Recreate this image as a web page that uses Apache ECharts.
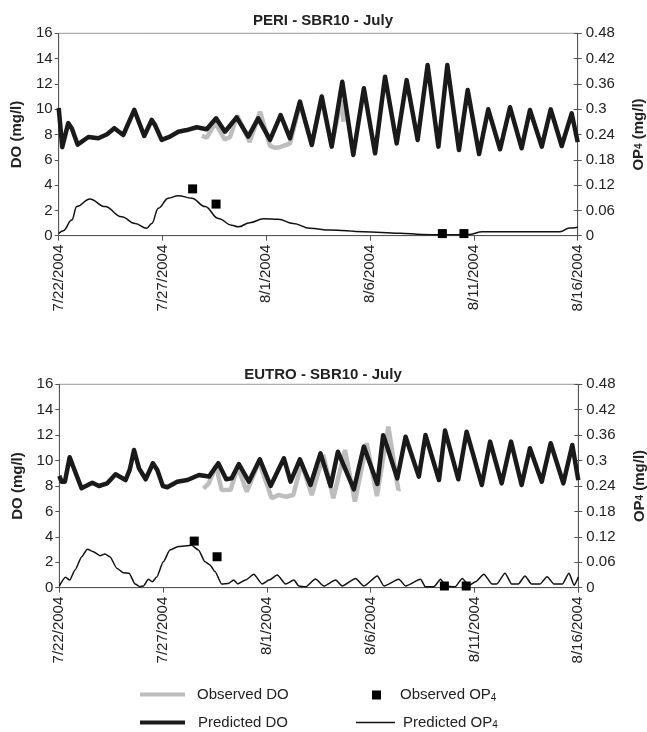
<!DOCTYPE html>
<html>
<head>
<meta charset="utf-8">
<script src="https://cdn.jsdelivr.net/npm/echarts@6/dist/echarts.min.js"></script>
<style>
  html, body { margin: 0; padding: 0; background: #fff; }
  #chart { width: 647px; height: 732px; }
</style>
</head>
<body>
<div id="chart"></div>
<script>
// days since 7/22/2004
const dateLabels = ['7/22/2004', '7/27/2004', '8/1/2004', '8/6/2004', '8/11/2004', '8/16/2004'];
const panelTitles = ['PERI - SBR10 - July', 'EUTRO - SBR10 - July'];

// PERI panel
const periDoObserved = [
    [6.9, 7.9], [7.13, 7.75], [7.55, 8.9], [8.0, 7.6], [8.25, 7.8], [8.6, 9.5], [9.2, 7.4],
    [9.7, 9.8], [10.18, 7.1], [10.4, 6.95], [10.66, 7.0], [11.14, 7.3], [11.62, 10.4],
    [12.2, 7.3], [12.65, 10.8], [13.15, 7.2], [13.62, 10.7], [13.72, 9.0]
];
const periDoPredicted = [
    [0, 10.1], [0.17, 7.0], [0.46, 8.9], [0.63, 8.5], [0.91, 7.2], [1.43, 7.8], [1.91, 7.7],
    [2.31, 8.0], [2.68, 8.5], [3.11, 7.96], [3.64, 9.95], [4.12, 7.88], [4.48, 9.15], [4.64, 8.75],
    [4.96, 7.57], [5.36, 7.83], [5.76, 8.22], [6.17, 8.35], [6.65, 8.57], [7.13, 8.41], [7.58, 9.28],
    [8.01, 8.22], [8.57, 9.36], [9.13, 7.83], [9.61, 9.28], [10.18, 7.57], [10.69, 9.54], [11.14, 7.7],
    [11.62, 10.6], [12.19, 7.17], [12.67, 11.0], [13.15, 7.04], [13.66, 12.17], [14.19, 6.38],
    [14.7, 11.65], [15.24, 6.51], [15.72, 12.57], [16.28, 7.3], [16.76, 12.3], [17.29, 7.57],
    [17.77, 13.49], [18.29, 7.04], [18.72, 13.49], [19.28, 6.77], [19.7, 11.52], [20.25, 6.46],
    [20.69, 9.99], [21.26, 6.83], [21.74, 10.15], [22.3, 6.91], [22.7, 9.94], [23.27, 7.04],
    [23.7, 9.99], [24.23, 7.09], [24.71, 9.67], [25, 7.4]
];
const periOpObserved = [[6.45, 0.111], [7.58, 0.075], [18.48, 0.005], [19.52, 0.005]];
const periOpPredicted = [
    [0, 0.005], [0.22, 0.012], [0.63, 0.037], [0.87, 0.069], [1.5, 0.087], [2.23, 0.069],
    [3.03, 0.045], [3.68, 0.029], [4.24, 0.0175], [4.48, 0.029], [4.8, 0.065], [5.28, 0.089],
    [5.76, 0.095], [6.41, 0.089], [7.05, 0.069], [7.69, 0.041], [8.33, 0.025], [8.65, 0.021],
    [9.21, 0.031], [9.86, 0.04], [10.58, 0.039], [11.3, 0.029], [12.1, 0.0175], [13.07, 0.0135],
    [14.67, 0.0095], [16.44, 0.0057], [17.5, 0.003], [18.5, 0.002], [19.8, 0.003], [20.4, 0.0095],
    [24.15, 0.0095], [24.6, 0.018], [25, 0.02]
];

// EUTRO panel
const eutroDoObserved = [
    [6.95, 7.8], [7.2, 8.2], [7.55, 9.6], [7.82, 7.69], [8.25, 7.7], [8.6, 9.5], [9.03, 7.55],
    [9.62, 9.9], [10.23, 7.03], [10.55, 7.29], [10.9, 7.16], [11.27, 7.29], [11.67, 9.79],
    [12.16, 7.29], [12.72, 10.44], [13.2, 7.03], [13.76, 10.83], [14.24, 6.77], [14.81, 11.36],
    [15.3, 7.2], [15.85, 12.67], [16.33, 7.69], [16.4, 7.8]
];
const eutroDoPredicted = [
    [0, 8.8], [0.11, 8.34], [0.27, 8.34], [0.5, 10.26], [0.7, 9.39], [1.07, 7.82], [1.59, 8.26],
    [1.91, 8.0], [2.31, 8.21], [2.71, 8.92], [3.19, 8.47], [3.39, 9.26], [3.6, 10.83], [3.84, 9.39],
    [4.16, 8.53], [4.51, 9.79], [4.72, 9.26], [4.99, 8.0], [5.2, 7.9], [5.68, 8.34], [6.17, 8.47],
    [6.73, 8.87], [7.21, 8.74], [7.66, 9.79], [8.04, 8.53], [8.3, 8.6], [8.65, 9.73], [9.13, 8.34],
    [9.66, 10.1], [10.18, 8.0], [10.82, 10.18], [11.14, 8.34], [11.59, 10.1], [12.1, 8.08],
    [12.58, 10.57], [13.07, 8.0], [13.42, 10.7], [14.19, 7.74], [14.67, 11.1], [15.32, 8.16],
    [15.6, 12.0], [15.75, 11.3], [16.28, 8.6], [16.68, 11.88], [17.32, 8.74], [17.64, 12.01],
    [18.29, 8.47], [18.58, 12.36], [19.22, 8.53], [19.62, 12.27], [20.35, 8.08], [20.75, 11.49],
    [21.31, 8.21], [21.76, 11.49], [22.27, 8.08], [22.67, 10.97], [23.24, 8.34], [23.67, 11.36],
    [24.28, 8.21], [24.71, 11.23], [25, 8.47]
];
const eutroOpObserved = [[6.5, 0.11], [7.6, 0.073], [18.55, 0.004], [19.6, 0.004]];
const eutroOpPredicted = [
    [0, 0.004], [0.3, 0.0245], [0.5, 0.018], [0.76, 0.042], [1.08, 0.073], [1.35, 0.091],
    [1.64, 0.085], [1.96, 0.0755], [2.2, 0.0795], [2.44, 0.073], [2.77, 0.046], [3.09, 0.035],
    [3.36, 0.034], [3.65, 0.0087], [3.89, 0.0024], [4.05, 0.004], [4.29, 0.02], [4.48, 0.014],
    [4.69, 0.025], [5.01, 0.061], [5.33, 0.089], [5.73, 0.097], [6.14, 0.099], [6.37, 0.1],
    [6.7, 0.089], [7.02, 0.061], [7.26, 0.0535], [7.5, 0.038], [7.82, 0.0087], [8.14, 0.01],
    [8.4, 0.018], [8.6, 0.009], [8.97, 0.018], [9.37, 0.0315], [9.77, 0.0087], [10.1, 0.018],
    [10.5, 0.03], [10.9, 0.0087], [11.3, 0.018], [11.54, 0.004], [11.86, 0.002], [12.34, 0.0205],
    [12.74, 0.004], [13.31, 0.018], [13.63, 0.004], [14.27, 0.022], [14.67, 0.004], [15.32, 0.0276],
    [15.64, 0.004], [16.36, 0.02], [16.68, 0.004], [17.4, 0.02], [17.64, 0.002], [18.04, 0.002],
    [18.37, 0.02], [18.6, 0.004], [19.06, 0.002], [19.41, 0.022], [19.73, 0.005], [20.05, 0.014],
    [20.45, 0.032], [20.85, 0.0087], [21.07, 0.0087], [21.47, 0.034], [21.79, 0.0087],
    [22.11, 0.0087], [22.43, 0.0276], [22.75, 0.0087], [23.15, 0.0087], [23.5, 0.026],
    [23.83, 0.0087], [24.23, 0.0087], [24.55, 0.034], [24.8, 0.006], [25, 0.025]
];

const FONT = '"Liberation Sans", Arial, sans-serif';
const axisColor = '#555';

function xAxisFor(gridIndex) {
    return {
        type: 'value', gridIndex: gridIndex, min: 0, max: 25, interval: 5,
        axisLine: { lineStyle: { color: axisColor } },
        axisTick: { length: 5, lineStyle: { color: axisColor } },
        axisLabel: {
            rotate: 90, margin: 9, color: '#222', fontSize: 15, fontFamily: FONT,
            formatter: v => dateLabels[Math.round(v / 5)]
        },
        splitLine: { show: false }
    };
}

function doAxisFor(gridIndex) {
    return {
        type: 'value', gridIndex: gridIndex, position: 'left', min: 0, max: 16, interval: 2,
        name: 'DO (mg/l)', nameLocation: 'middle', nameRotate: 90, nameGap: 34,
        nameTextStyle: { fontWeight: 'bold', fontSize: 15, color: '#222', fontFamily: FONT },
        axisLine: { show: true, lineStyle: { color: axisColor } },
        axisTick: { show: true, length: 4, lineStyle: { color: axisColor } },
        axisLabel: { color: '#222', fontSize: 15, fontFamily: FONT, margin: 6 },
        splitLine: { show: false }
    };
}

function opAxisFor(gridIndex) {
    return {
        type: 'value', gridIndex: gridIndex, position: 'right', min: 0, max: 0.48, interval: 0.06,
        name: 'OP{s|4} (mg/l)', nameLocation: 'middle', nameRotate: 90, nameGap: 54,
        nameTextStyle: {
            fontWeight: 'bold', fontSize: 15, color: '#222', fontFamily: FONT,
            rich: { s: { fontWeight: 'bold', fontSize: 10, color: '#222', fontFamily: FONT } }
        },
        axisLine: { show: true, lineStyle: { color: axisColor } },
        axisTick: { show: true, length: 4, lineStyle: { color: axisColor } },
        axisLabel: { color: '#222', fontSize: 15, fontFamily: FONT, margin: 8 },
        splitLine: { show: false }
    };
}

// inner half of the crossing ticks on the right axis
function opInnerTicks(gridIndex) {
    return {
        type: 'value', gridIndex: gridIndex, position: 'right', min: 0, max: 0.48, interval: 0.06,
        axisLine: { show: false },
        axisTick: { show: true, inside: true, length: 4, lineStyle: { color: axisColor } },
        axisLabel: { show: false },
        splitLine: { show: false }
    };
}

function panelSeries(gi, doObs, doPred, opObs, opPred) {
    const yDo = gi * 3, yOp = gi * 3 + 1;
    return [
        {
            name: 'Observed DO', type: 'line', xAxisIndex: gi, yAxisIndex: yDo, data: doObs,
            symbol: 'none', lineStyle: { color: '#bdbdbd', width: 4.5 }, itemStyle: { color: '#bdbdbd' }, z: 2
        },
        {
            name: 'Predicted DO', type: 'line', xAxisIndex: gi, yAxisIndex: yDo, data: doPred,
            symbol: 'none', lineStyle: { color: '#1a1a1a', width: 4.5, join: 'round' },
            itemStyle: { color: '#1a1a1a' }, z: 3
        },
        {
            name: 'Predicted OP4', type: 'line', xAxisIndex: gi, yAxisIndex: yOp, data: opPred,
            symbol: 'none', smooth: gi === 0 ? 0.4 : 0.2, smoothMonotone: 'x',
            lineStyle: { color: '#111', width: 1.5 }, itemStyle: { color: '#111' }, z: 4
        },
        {
            name: 'Observed OP4', type: 'scatter', xAxisIndex: gi, yAxisIndex: yOp, data: opObs,
            symbol: 'rect', symbolSize: 9, itemStyle: { color: '#000', opacity: 1 }, z: 5
        }
    ];
}

const legendText = {
    fontSize: 15, color: '#222', fontFamily: FONT,
    rich: { s: { fontSize: 10, color: '#222', fontFamily: FONT, padding: [6, 0, 0, 0] } }
};
function legendAt(name, icon, left, top, w, h, pad) {
    return {
        data: [{ name: name, icon: icon }], left: left, top: top, itemWidth: w, itemHeight: h,
        padding: 0, selectedMode: false,
        formatter: n => n.replace('OP4', 'OP{s|4}'),
        textStyle: Object.assign({}, legendText, { padding: [0, 0, 0, pad] })
    };
}

const chart = echarts.init(document.getElementById('chart'));
chart.setOption({
    animation: false,
    backgroundColor: '#fff',
    title: panelTitles.map((t, i) => ({
        text: t, left: 318, top: i === 0 ? 8 : 362, textAlign: 'center',
        textStyle: { fontSize: 15, fontWeight: 'bold', color: '#222', fontFamily: FONT }
    })),
    grid: [
        {
            left: 58.7, right: 69.3, top: 33.3, height: 202.4, outerBoundsMode: 'none',
            show: true, borderColor: '#999', borderWidth: 1
        },
        {
            left: 59.3, right: 68.7, top: 384.3, height: 203.4, outerBoundsMode: 'none',
            show: true, borderColor: '#999', borderWidth: 1
        }
    ],
    xAxis: [xAxisFor(0), xAxisFor(1)],
    yAxis: [doAxisFor(0), opAxisFor(0), opInnerTicks(0), doAxisFor(1), opAxisFor(1), opInnerTicks(1)],
    legend: [
        legendAt('Observed DO', 'rect', 140, 687, 45, 4, 7),
        legendAt('Predicted DO', 'rect', 140, 715, 45, 4, 8),
        legendAt('Observed OP4', 'rect', 372, 687.5, 9, 9, 14),
        legendAt('Predicted OP4', 'rect', 356, 715, 39, 1.5, 3)
    ],
    series: [].concat(
        panelSeries(0, periDoObserved, periDoPredicted, periOpObserved, periOpPredicted),
        panelSeries(1, eutroDoObserved, eutroDoPredicted, eutroOpObserved, eutroOpPredicted)
    )
});

window.addEventListener('resize', function () {
    chart.resize();
});
</script>
</body>
</html>
